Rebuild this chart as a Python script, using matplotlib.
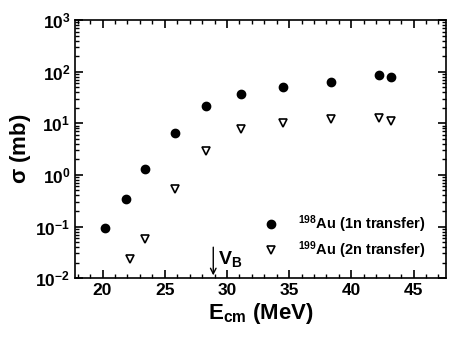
import numpy as np
import matplotlib
matplotlib.use("Agg")
import matplotlib.pyplot as plt
from matplotlib.ticker import LogLocator, MultipleLocator, NullFormatter

plt.rcParams['font.family'] = ['Liberation Sans', 'DejaVu Sans']
plt.rcParams['font.weight'] = 'bold'
plt.rcParams['mathtext.fontset'] = 'custom'
plt.rcParams['mathtext.rm'] = 'Liberation Sans'
plt.rcParams['mathtext.bf'] = 'Liberation Sans:bold'
plt.rcParams['mathtext.default'] = 'bf'

# 198Au (1n transfer)
e_1n = [20.2, 21.9, 23.4, 25.8, 28.3, 31.1, 34.5, 38.4, 42.2, 43.2]
sig_1n = [0.095, 0.34, 1.3, 6.5, 21.5, 37, 51, 64, 85, 79]

# 199Au (2n transfer)
e_2n = [22.2, 23.4, 25.8, 28.3, 31.1, 34.5, 38.4, 42.2, 43.2]
sig_2n = [0.023, 0.058, 0.53, 2.9, 7.6, 10.3, 12.0, 12.8, 11.3]

vb = 28.9

fig = plt.figure(figsize=(4.5, 3.4), dpi=100)
ax = fig.add_axes([0.167, 0.182, 0.824, 0.759])

ax.plot(e_1n, sig_1n, 'o', color='black', ms=6,
        label=r'$^{\mathrm{198}}$Au (1n transfer)')
ax.plot(e_2n, sig_2n, 'v', mfc='white', mec='black', mew=1.2, ms=6,
        label=r'$^{\mathrm{199}}$Au (2n transfer)')

ax.set_yscale('log')
ax.set_ylim(1e-2, 1e3)
ax.set_xlim(17.8, 47.6)

ax.xaxis.set_major_locator(MultipleLocator(5))
ax.xaxis.set_minor_locator(MultipleLocator(1))
ax.yaxis.set_major_locator(LogLocator(base=10, numticks=10))
ax.yaxis.set_minor_locator(LogLocator(base=10, subs=np.arange(2, 10), numticks=20))
ax.yaxis.set_minor_formatter(NullFormatter())

ax.tick_params(which='both', direction='in', top=True, right=True)
ax.tick_params(which='major', length=6, width=1.2, labelsize=12.5)
ax.tick_params(which='minor', length=3, width=1)
for s in ax.spines.values():
    s.set_linewidth(1.2)

ax.set_xlabel(r'E$_{\mathbf{cm}}$ (MeV)', fontsize=16, fontweight='bold', labelpad=2)
ax.set_ylabel(r'$\mathbf{\sigma}$ (mb)', fontsize=16, fontweight='bold', labelpad=2)

# barrier arrow
ax.annotate('', xy=(vb, 1e-2), xytext=(vb, 4.5e-2),
            arrowprops=dict(arrowstyle='->', color='black', lw=1))
ax.text(vb + 0.4, 1.9e-2, r'V$_{\mathbf{B}}$', fontsize=14, fontweight='bold')

ax.legend(loc='lower right', bbox_to_anchor=(0.96, 0.045), frameon=False,
          fontsize=10.5, handlelength=1.0, handletextpad=1.3,
          borderaxespad=0.0, labelspacing=0.3)

fig.savefig('out.png', dpi=100)
